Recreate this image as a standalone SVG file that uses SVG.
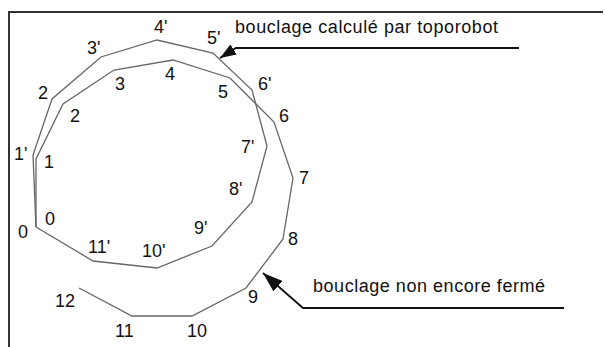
<svg xmlns="http://www.w3.org/2000/svg" width="605" height="347" viewBox="0 0 605 347">
<style>
text{font-family:"Liberation Sans",Arial,sans-serif;font-size:18px;fill:#111}
.poly{fill:none;stroke:#666;stroke-width:1.3;stroke-linejoin:miter}
.arr{fill:none;stroke:#111;stroke-width:1.8}
.frame{fill:none;stroke:#333;stroke-width:2}
</style>
<defs>
<marker id="ah1" markerUnits="userSpaceOnUse" markerWidth="18" markerHeight="12" refX="16" refY="6" orient="auto"><path d="M0,0 L16,6 L0,12 Z" fill="#111"/></marker>
<marker id="ah2" markerUnits="userSpaceOnUse" markerWidth="22" markerHeight="14" refX="20" refY="7" orient="auto"><path d="M0,0 L20,7 L0,14 Z" fill="#111"/></marker>
</defs>
<g id="frame"><path class="frame" d="M9,347 V12 H603"/></g>
<g id="connectors">
<polyline id="loop-computed" class="poly" points="36,227 33,155 52,99 101,57 157,40 213,53 252,90 267,146 252,202 212,246 157,268 93,261 36,227"/>
<polyline id="loop-open" class="poly" points="36,227 36,159 63,104 114,70 173,60 230,78 274,122 293,178 283,239 246,288 192,316 132,316 79,288"/>
<polyline class="arr" points="519,48 236,48 220,58" marker-end="url(#ah1)"/>
<polyline class="arr" points="564,308 303,308 263,273" marker-end="url(#ah2)"/>
</g>
<g id="labels">
<text x="235" y="33" textLength="263" lengthAdjust="spacing">bouclage calculé par toporobot</text>
<text x="313" y="292" textLength="232" lengthAdjust="spacing">bouclage non encore fermé</text>
<text x="154" y="33">4'</text>
<text x="207" y="44">5'</text>
<text x="87" y="54">3'</text>
<text x="38" y="99">2</text>
<text x="115" y="90">3</text>
<text x="165" y="80">4</text>
<text x="218" y="98">5</text>
<text x="258" y="90">6'</text>
<text x="279" y="122">6</text>
<text x="70" y="122">2</text>
<text x="14" y="160">1'</text>
<text x="44" y="168">1</text>
<text x="241" y="153">7'</text>
<text x="299" y="184">7</text>
<text x="229" y="195">8'</text>
<text x="45" y="225">0</text>
<text x="18" y="238">0</text>
<text x="88" y="253">11'</text>
<text x="142" y="257">10'</text>
<text x="194" y="234">9'</text>
<text x="288" y="245">8</text>
<text x="248" y="303">9</text>
<text x="55" y="307">12</text>
<text x="115" y="337">11</text>
<text x="187" y="337">10</text>
</g>
</svg>
